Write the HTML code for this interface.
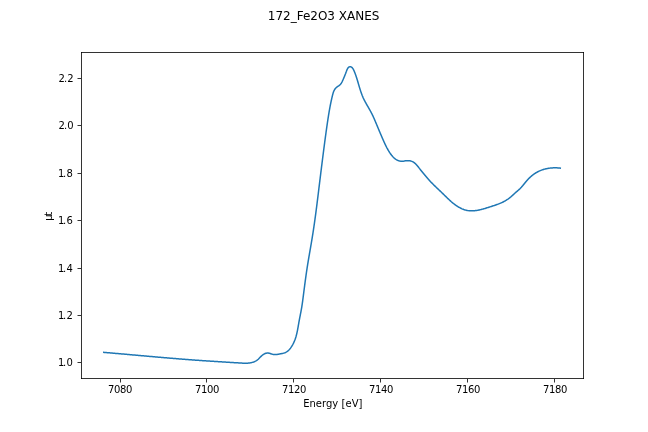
<!DOCTYPE html>
<html lang="en"><head><meta charset="utf-8"><title>172_Fe2O3 XANES</title>
<style>
html,body{margin:0;padding:0;background:#fff;overflow:hidden}
svg{display:block}
text{font-family:"DejaVu Sans","Liberation Sans",sans-serif;fill:#000}
.t{font-size:10px;letter-spacing:-0.36px}
.ax rect{fill:#333}
.ax rect.c{fill:#0a0a0a}
</style></head>
<body>
<svg width="648" height="432" viewBox="0 0 648 432">
<rect width="648" height="432" fill="#fff"/>
<text x="323.6" y="20" font-size="12" text-anchor="middle">172_Fe2O3 XANES</text>
<path d="M103.81 352.37 L104.46 352.43 L105.11 352.48 L105.77 352.54 L106.42 352.59 L107.07 352.65 L107.73 352.70 L108.38 352.76 L109.03 352.82 L109.69 352.87 L110.34 352.93 L110.99 352.98 L111.65 353.04 L112.30 353.10 L112.95 353.15 L113.61 353.21 L114.26 353.27 L114.91 353.32 L115.57 353.38 L116.22 353.44 L116.87 353.49 L117.53 353.55 L118.18 353.61 L118.83 353.66 L119.49 353.72 L120.14 353.78 L120.80 353.84 L121.45 353.89 L122.10 353.95 L122.76 354.01 L123.41 354.07 L124.06 354.12 L124.72 354.18 L125.37 354.24 L126.03 354.30 L126.68 354.35 L127.33 354.41 L127.99 354.47 L128.64 354.53 L129.30 354.59 L129.95 354.64 L130.61 354.70 L131.26 354.76 L131.91 354.82 L132.57 354.88 L133.22 354.93 L133.88 354.99 L134.53 355.05 L135.18 355.11 L135.84 355.17 L136.49 355.22 L137.15 355.28 L137.80 355.34 L138.46 355.40 L139.11 355.46 L139.76 355.51 L140.42 355.57 L141.07 355.63 L141.73 355.69 L142.38 355.75 L143.04 355.81 L143.69 355.86 L144.35 355.92 L145.00 355.98 L145.65 356.04 L146.31 356.09 L146.96 356.15 L147.62 356.21 L148.27 356.27 L148.93 356.33 L149.58 356.38 L150.24 356.44 L150.89 356.50 L151.54 356.56 L152.20 356.61 L152.85 356.67 L153.51 356.73 L154.16 356.78 L154.82 356.84 L155.47 356.90 L156.13 356.96 L156.78 357.01 L157.44 357.07 L158.09 357.13 L158.74 357.18 L159.40 357.24 L160.05 357.30 L160.71 357.35 L161.36 357.41 L162.02 357.46 L162.67 357.52 L163.33 357.58 L163.98 357.63 L164.64 357.69 L165.29 357.74 L165.95 357.80 L166.60 357.85 L167.25 357.91 L167.91 357.96 L168.56 358.02 L169.22 358.07 L169.87 358.13 L170.53 358.18 L171.18 358.24 L171.84 358.29 L172.49 358.35 L173.14 358.40 L173.80 358.45 L174.45 358.51 L175.11 358.56 L175.76 358.61 L176.42 358.67 L177.07 358.72 L177.73 358.77 L178.38 358.83 L179.04 358.88 L179.69 358.93 L180.34 358.98 L181.00 359.04 L181.65 359.09 L182.31 359.14 L182.96 359.19 L183.62 359.24 L184.27 359.29 L184.92 359.34 L185.58 359.40 L186.23 359.45 L186.89 359.50 L187.54 359.55 L188.20 359.60 L188.85 359.65 L189.50 359.70 L190.16 359.75 L190.81 359.79 L191.47 359.84 L192.12 359.89 L192.77 359.94 L193.43 359.99 L194.08 360.04 L194.74 360.08 L195.39 360.13 L196.04 360.18 L196.70 360.23 L197.35 360.27 L198.01 360.32 L198.66 360.37 L199.31 360.41 L199.97 360.46 L200.62 360.50 L201.28 360.55 L201.93 360.59 L202.58 360.64 L203.24 360.68 L203.89 360.73 L204.54 360.77 L205.20 360.82 L205.85 360.86 L206.51 360.90 L207.16 360.95 L207.81 360.99 L208.47 361.03 L209.12 361.08 L209.78 361.12 L210.43 361.16 L211.08 361.20 L211.74 361.25 L212.39 361.29 L213.05 361.33 L213.70 361.37 L214.35 361.41 L215.01 361.45 L215.66 361.49 L216.32 361.54 L216.97 361.58 L217.63 361.62 L218.28 361.66 L218.94 361.70 L219.59 361.74 L220.25 361.78 L220.90 361.82 L221.56 361.86 L222.21 361.90 L222.87 361.94 L223.52 361.98 L224.18 362.02 L224.83 362.06 L225.49 362.10 L226.15 362.14 L226.80 362.18 L227.46 362.22 L228.12 362.26 L228.77 362.30 L229.43 362.34 L230.09 362.38 L230.74 362.43 L231.40 362.47 L232.06 362.51 L232.72 362.55 L233.38 362.59 L234.03 362.63 L234.69 362.67 L235.35 362.71 L236.01 362.75 L236.67 362.79 L237.33 362.83 L237.99 362.87 L238.65 362.91 L239.31 362.95 L239.97 362.99 L240.63 363.03 L241.29 363.07 L241.95 363.11 L242.61 363.14 L243.27 363.17 L243.92 363.20 L244.58 363.21 L245.24 363.22 L245.89 363.22 L246.55 363.20 L247.20 363.18 L247.85 363.14 L248.49 363.08 L249.14 363.01 L249.78 362.93 L250.42 362.82 L251.06 362.69 L251.69 362.55 L252.32 362.38 L252.94 362.18 L253.56 361.97 L254.17 361.73 L254.77 361.47 L255.36 361.18 L255.93 360.87 L256.48 360.53 L257.02 360.16 L257.53 359.78 L258.03 359.36 L258.50 358.93 L258.97 358.48 L259.43 358.02 L259.88 357.55 L260.34 357.08 L260.81 356.61 L261.29 356.14 L261.79 355.69 L262.31 355.26 L262.85 354.84 L263.41 354.46 L263.99 354.10 L264.57 353.79 L265.17 353.52 L265.78 353.30 L266.40 353.14 L267.02 353.04 L267.65 353.01 L268.28 353.05 L268.90 353.16 L269.53 353.32 L270.16 353.51 L270.79 353.72 L271.42 353.93 L272.06 354.14 L272.70 354.31 L273.33 354.45 L273.98 354.54 L274.62 354.57 L275.27 354.57 L275.92 354.54 L276.57 354.47 L277.22 354.39 L277.88 354.29 L278.54 354.18 L279.19 354.06 L279.85 353.95 L280.51 353.84 L281.17 353.72 L281.82 353.59 L282.46 353.45 L283.10 353.30 L283.73 353.12 L284.34 352.92 L284.94 352.69 L285.53 352.44 L286.10 352.15 L286.65 351.82 L287.18 351.46 L287.70 351.07 L288.19 350.65 L288.67 350.21 L289.14 349.74 L289.58 349.25 L290.01 348.74 L290.43 348.21 L290.83 347.67 L291.21 347.12 L291.58 346.56 L291.94 345.99 L292.28 345.42 L292.62 344.84 L292.93 344.26 L293.24 343.68 L293.53 343.09 L293.81 342.50 L294.08 341.91 L294.34 341.31 L294.59 340.71 L294.83 340.10 L295.05 339.50 L295.27 338.88 L295.48 338.27 L295.68 337.65 L295.87 337.03 L296.06 336.41 L296.23 335.78 L296.40 335.15 L296.56 334.51 L296.72 333.88 L296.87 333.24 L297.01 332.60 L297.15 331.96 L297.29 331.32 L297.42 330.67 L297.54 330.03 L297.66 329.38 L297.78 328.73 L297.90 328.08 L298.02 327.43 L298.13 326.78 L298.24 326.13 L298.35 325.48 L298.47 324.83 L298.58 324.18 L298.69 323.52 L298.80 322.87 L298.92 322.23 L299.03 321.58 L299.15 320.93 L299.27 320.28 L299.39 319.64 L299.52 318.99 L299.64 318.35 L299.76 317.70 L299.89 317.06 L300.02 316.41 L300.14 315.77 L300.27 315.13 L300.39 314.48 L300.52 313.84 L300.64 313.20 L300.77 312.56 L300.89 311.91 L301.01 311.27 L301.13 310.63 L301.25 309.98 L301.37 309.34 L301.48 308.69 L301.59 308.05 L301.70 307.40 L301.81 306.76 L301.91 306.11 L302.01 305.46 L302.11 304.81 L302.21 304.16 L302.30 303.51 L302.40 302.86 L302.49 302.21 L302.58 301.56 L302.67 300.91 L302.75 300.26 L302.84 299.61 L302.92 298.96 L303.01 298.30 L303.09 297.65 L303.17 297.00 L303.26 296.35 L303.34 295.70 L303.43 295.04 L303.51 294.39 L303.59 293.74 L303.68 293.09 L303.76 292.44 L303.84 291.78 L303.93 291.13 L304.01 290.48 L304.09 289.83 L304.18 289.18 L304.26 288.53 L304.35 287.87 L304.43 287.22 L304.52 286.57 L304.60 285.92 L304.69 285.27 L304.77 284.62 L304.86 283.97 L304.94 283.32 L305.03 282.67 L305.12 282.02 L305.20 281.36 L305.29 280.71 L305.38 280.06 L305.47 279.41 L305.56 278.76 L305.65 278.11 L305.74 277.46 L305.83 276.81 L305.92 276.16 L306.01 275.51 L306.10 274.86 L306.19 274.21 L306.29 273.56 L306.38 272.91 L306.48 272.26 L306.57 271.62 L306.67 270.97 L306.76 270.32 L306.86 269.67 L306.96 269.02 L307.06 268.37 L307.16 267.72 L307.26 267.07 L307.36 266.43 L307.46 265.78 L307.57 265.13 L307.67 264.48 L307.77 263.83 L307.88 263.18 L307.99 262.54 L308.09 261.89 L308.20 261.24 L308.31 260.59 L308.42 259.95 L308.52 259.30 L308.63 258.65 L308.74 258.00 L308.85 257.36 L308.96 256.71 L309.07 256.06 L309.19 255.42 L309.30 254.77 L309.41 254.12 L309.52 253.47 L309.63 252.83 L309.74 252.18 L309.86 251.53 L309.97 250.89 L310.08 250.24 L310.19 249.59 L310.30 248.94 L310.42 248.30 L310.53 247.65 L310.64 247.00 L310.75 246.36 L310.86 245.71 L310.97 245.06 L311.09 244.41 L311.20 243.77 L311.31 243.12 L311.42 242.47 L311.53 241.82 L311.63 241.18 L311.74 240.53 L311.85 239.88 L311.96 239.23 L312.07 238.59 L312.17 237.94 L312.28 237.29 L312.38 236.64 L312.49 235.99 L312.59 235.35 L312.69 234.70 L312.80 234.05 L312.90 233.40 L313.00 232.75 L313.10 232.10 L313.20 231.45 L313.30 230.81 L313.40 230.16 L313.50 229.51 L313.59 228.86 L313.69 228.21 L313.79 227.56 L313.88 226.91 L313.98 226.26 L314.07 225.61 L314.17 224.96 L314.26 224.31 L314.36 223.66 L314.45 223.01 L314.54 222.36 L314.63 221.71 L314.72 221.06 L314.81 220.41 L314.91 219.76 L315.00 219.11 L315.08 218.46 L315.17 217.81 L315.26 217.16 L315.35 216.51 L315.44 215.86 L315.53 215.21 L315.61 214.56 L315.70 213.91 L315.79 213.26 L315.87 212.61 L315.96 211.95 L316.04 211.30 L316.13 210.65 L316.21 210.00 L316.30 209.35 L316.38 208.70 L316.47 208.05 L316.55 207.40 L316.63 206.75 L316.72 206.09 L316.80 205.44 L316.88 204.79 L316.96 204.14 L317.05 203.49 L317.13 202.84 L317.21 202.19 L317.29 201.53 L317.37 200.88 L317.45 200.23 L317.53 199.58 L317.62 198.93 L317.70 198.28 L317.78 197.63 L317.86 196.97 L317.94 196.32 L318.02 195.67 L318.10 195.02 L318.18 194.37 L318.26 193.72 L318.34 193.06 L318.42 192.41 L318.50 191.76 L318.58 191.11 L318.65 190.46 L318.73 189.80 L318.81 189.15 L318.89 188.50 L318.97 187.85 L319.05 187.20 L319.13 186.55 L319.21 185.89 L319.29 185.24 L319.37 184.59 L319.45 183.94 L319.53 183.29 L319.61 182.64 L319.69 181.98 L319.77 181.33 L319.85 180.68 L319.93 180.03 L320.01 179.38 L320.09 178.73 L320.17 178.07 L320.25 177.42 L320.33 176.77 L320.41 176.12 L320.49 175.47 L320.57 174.82 L320.65 174.17 L320.73 173.51 L320.81 172.86 L320.89 172.21 L320.97 171.56 L321.05 170.91 L321.13 170.26 L321.22 169.60 L321.30 168.95 L321.38 168.30 L321.46 167.65 L321.54 167.00 L321.62 166.35 L321.70 165.70 L321.79 165.05 L321.87 164.39 L321.95 163.74 L322.03 163.09 L322.11 162.44 L322.20 161.79 L322.28 161.14 L322.36 160.49 L322.44 159.83 L322.53 159.18 L322.61 158.53 L322.69 157.88 L322.77 157.23 L322.86 156.58 L322.94 155.93 L323.02 155.28 L323.11 154.62 L323.19 153.97 L323.27 153.32 L323.36 152.67 L323.44 152.02 L323.52 151.37 L323.61 150.72 L323.69 150.06 L323.77 149.41 L323.86 148.76 L323.94 148.11 L324.03 147.46 L324.11 146.81 L324.20 146.16 L324.28 145.51 L324.37 144.86 L324.45 144.20 L324.54 143.55 L324.62 142.90 L324.71 142.25 L324.79 141.60 L324.88 140.95 L324.97 140.30 L325.05 139.65 L325.14 139.00 L325.23 138.35 L325.32 137.69 L325.40 137.04 L325.49 136.39 L325.58 135.74 L325.67 135.09 L325.76 134.44 L325.85 133.79 L325.94 133.14 L326.02 132.49 L326.11 131.84 L326.21 131.19 L326.30 130.54 L326.39 129.89 L326.48 129.24 L326.57 128.59 L326.66 127.94 L326.76 127.29 L326.85 126.64 L326.94 125.99 L327.04 125.34 L327.13 124.69 L327.22 124.04 L327.32 123.39 L327.41 122.74 L327.51 122.09 L327.61 121.44 L327.70 120.79 L327.80 120.15 L327.90 119.50 L328.00 118.85 L328.10 118.20 L328.20 117.55 L328.30 116.90 L328.40 116.26 L328.50 115.61 L328.61 114.96 L328.71 114.31 L328.82 113.66 L328.93 113.02 L329.03 112.37 L329.14 111.72 L329.25 111.08 L329.37 110.43 L329.48 109.78 L329.59 109.14 L329.71 108.49 L329.83 107.85 L329.95 107.20 L330.07 106.55 L330.19 105.91 L330.32 105.26 L330.44 104.62 L330.57 103.98 L330.70 103.33 L330.84 102.69 L330.97 102.05 L331.11 101.40 L331.25 100.76 L331.39 100.12 L331.53 99.48 L331.68 98.83 L331.82 98.19 L331.97 97.55 L332.13 96.91 L332.28 96.27 L332.44 95.63 L332.60 94.99 L332.76 94.35 L332.94 93.72 L333.12 93.09 L333.33 92.46 L333.54 91.85 L333.78 91.24 L334.05 90.65 L334.34 90.07 L334.66 89.50 L335.02 88.95 L335.42 88.43 L335.86 87.95 L336.34 87.51 L336.87 87.11 L337.41 86.73 L337.96 86.36 L338.52 85.99 L339.06 85.61 L339.57 85.20 L340.04 84.76 L340.48 84.29 L340.88 83.78 L341.25 83.25 L341.60 82.69 L341.93 82.11 L342.23 81.51 L342.52 80.90 L342.80 80.29 L343.07 79.68 L343.34 79.07 L343.59 78.48 L343.84 77.89 L344.09 77.30 L344.33 76.71 L344.57 76.12 L344.80 75.53 L345.04 74.94 L345.27 74.34 L345.51 73.74 L345.74 73.12 L345.98 72.49 L346.21 71.85 L346.46 71.20 L346.70 70.53 L346.96 69.87 L347.25 69.22 L347.56 68.61 L347.92 68.06 L348.32 67.57 L348.78 67.16 L349.30 66.86 L349.86 66.69 L350.43 66.69 L350.98 66.86 L351.51 67.17 L352.01 67.59 L352.48 68.09 L352.89 68.63 L353.25 69.20 L353.57 69.79 L353.86 70.38 L354.13 70.99 L354.38 71.60 L354.63 72.21 L354.87 72.82 L355.11 73.44 L355.34 74.05 L355.56 74.67 L355.78 75.29 L356.00 75.91 L356.21 76.54 L356.42 77.16 L356.62 77.79 L356.82 78.42 L357.01 79.05 L357.21 79.67 L357.40 80.30 L357.59 80.94 L357.77 81.57 L357.96 82.20 L358.14 82.83 L358.33 83.46 L358.51 84.09 L358.69 84.72 L358.88 85.36 L359.06 85.99 L359.25 86.62 L359.44 87.25 L359.63 87.87 L359.82 88.50 L360.01 89.13 L360.21 89.75 L360.41 90.38 L360.61 91.00 L360.82 91.62 L361.03 92.24 L361.24 92.86 L361.46 93.47 L361.69 94.08 L361.92 94.70 L362.15 95.30 L362.40 95.91 L362.65 96.51 L362.90 97.11 L363.16 97.71 L363.44 98.31 L363.71 98.90 L364.00 99.49 L364.29 100.07 L364.59 100.66 L364.89 101.24 L365.20 101.82 L365.51 102.40 L365.83 102.97 L366.15 103.55 L366.47 104.12 L366.80 104.70 L367.12 105.27 L367.45 105.84 L367.78 106.41 L368.11 106.98 L368.44 107.55 L368.77 108.13 L369.10 108.70 L369.42 109.27 L369.75 109.85 L370.07 110.42 L370.39 111.00 L370.70 111.57 L371.01 112.15 L371.32 112.74 L371.62 113.32 L371.92 113.90 L372.21 114.49 L372.50 115.08 L372.78 115.67 L373.06 116.27 L373.33 116.86 L373.60 117.46 L373.87 118.06 L374.13 118.66 L374.40 119.26 L374.66 119.86 L374.91 120.46 L375.17 121.06 L375.43 121.67 L375.68 122.27 L375.93 122.87 L376.19 123.48 L376.44 124.08 L376.69 124.69 L376.94 125.30 L377.20 125.90 L377.45 126.51 L377.70 127.11 L377.95 127.72 L378.21 128.33 L378.46 128.93 L378.71 129.54 L378.97 130.14 L379.22 130.75 L379.48 131.35 L379.73 131.96 L379.99 132.57 L380.24 133.17 L380.50 133.78 L380.76 134.38 L381.02 134.98 L381.27 135.59 L381.53 136.19 L381.79 136.80 L382.05 137.40 L382.31 138.00 L382.58 138.61 L382.84 139.21 L383.10 139.81 L383.36 140.41 L383.63 141.01 L383.90 141.61 L384.17 142.21 L384.44 142.81 L384.71 143.40 L384.99 144.00 L385.27 144.59 L385.56 145.18 L385.85 145.77 L386.14 146.36 L386.43 146.94 L386.74 147.52 L387.04 148.10 L387.36 148.68 L387.67 149.25 L388.00 149.82 L388.33 150.39 L388.66 150.95 L389.01 151.51 L389.36 152.07 L389.72 152.62 L390.08 153.17 L390.46 153.72 L390.84 154.26 L391.23 154.79 L391.63 155.32 L392.05 155.83 L392.47 156.33 L392.91 156.82 L393.36 157.29 L393.83 157.75 L394.31 158.19 L394.81 158.60 L395.32 158.99 L395.86 159.36 L396.41 159.70 L396.98 160.02 L397.57 160.30 L398.18 160.55 L398.82 160.77 L399.46 160.95 L400.11 161.09 L400.77 161.20 L401.44 161.26 L402.10 161.29 L402.76 161.26 L403.40 161.19 L404.04 161.09 L404.68 160.97 L405.32 160.85 L405.97 160.76 L406.63 160.69 L407.30 160.65 L407.97 160.65 L408.64 160.68 L409.30 160.74 L409.95 160.84 L410.59 160.97 L411.22 161.14 L411.83 161.35 L412.42 161.60 L412.98 161.89 L413.53 162.21 L414.05 162.57 L414.56 162.96 L415.05 163.37 L415.52 163.81 L415.98 164.27 L416.43 164.75 L416.87 165.25 L417.30 165.76 L417.73 166.27 L418.15 166.80 L418.56 167.32 L418.98 167.85 L419.39 168.38 L419.81 168.90 L420.22 169.42 L420.63 169.94 L421.04 170.46 L421.46 170.98 L421.87 171.50 L422.28 172.01 L422.70 172.53 L423.11 173.04 L423.53 173.55 L423.94 174.05 L424.36 174.56 L424.77 175.06 L425.19 175.57 L425.61 176.07 L426.04 176.56 L426.46 177.06 L426.88 177.56 L427.31 178.05 L427.74 178.54 L428.17 179.03 L428.61 179.51 L429.04 180.00 L429.48 180.48 L429.92 180.96 L430.37 181.44 L430.82 181.91 L431.27 182.39 L431.72 182.86 L432.18 183.33 L432.64 183.79 L433.10 184.26 L433.57 184.72 L434.03 185.19 L434.50 185.65 L434.97 186.11 L435.44 186.57 L435.92 187.02 L436.39 187.48 L436.87 187.94 L437.35 188.39 L437.82 188.85 L438.30 189.30 L438.78 189.75 L439.26 190.21 L439.73 190.66 L440.21 191.12 L440.69 191.57 L441.16 192.03 L441.64 192.48 L442.11 192.94 L442.58 193.40 L443.05 193.86 L443.52 194.31 L443.99 194.77 L444.46 195.23 L444.93 195.69 L445.39 196.15 L445.86 196.61 L446.33 197.07 L446.80 197.52 L447.27 197.98 L447.74 198.43 L448.21 198.88 L448.68 199.33 L449.16 199.78 L449.64 200.22 L450.13 200.66 L450.61 201.09 L451.10 201.53 L451.60 201.95 L452.09 202.38 L452.60 202.80 L453.11 203.21 L453.62 203.62 L454.14 204.02 L454.66 204.42 L455.19 204.81 L455.73 205.20 L456.27 205.57 L456.82 205.94 L457.38 206.30 L457.94 206.66 L458.51 207.00 L459.08 207.33 L459.66 207.65 L460.24 207.96 L460.83 208.26 L461.43 208.55 L462.03 208.82 L462.63 209.07 L463.24 209.31 L463.86 209.54 L464.48 209.75 L465.10 209.94 L465.73 210.12 L466.36 210.27 L467.00 210.41 L467.63 210.53 L468.28 210.63 L468.92 210.71 L469.57 210.77 L470.23 210.81 L470.88 210.83 L471.54 210.84 L472.19 210.83 L472.85 210.81 L473.51 210.77 L474.17 210.72 L474.83 210.66 L475.48 210.58 L476.14 210.49 L476.79 210.39 L477.45 210.29 L478.10 210.17 L478.75 210.04 L479.39 209.91 L480.03 209.77 L480.67 209.62 L481.31 209.46 L481.95 209.30 L482.58 209.13 L483.21 208.96 L483.84 208.78 L484.47 208.60 L485.10 208.42 L485.73 208.23 L486.35 208.03 L486.98 207.84 L487.60 207.64 L488.23 207.44 L488.85 207.24 L489.48 207.04 L490.10 206.84 L490.72 206.64 L491.35 206.44 L491.97 206.23 L492.60 206.03 L493.22 205.83 L493.84 205.62 L494.47 205.42 L495.09 205.21 L495.71 205.00 L496.33 204.78 L496.95 204.56 L497.56 204.33 L498.18 204.10 L498.79 203.87 L499.40 203.63 L500.00 203.38 L500.61 203.12 L501.21 202.86 L501.80 202.59 L502.40 202.31 L502.99 202.02 L503.57 201.72 L504.15 201.41 L504.73 201.10 L505.30 200.77 L505.87 200.44 L506.43 200.09 L506.98 199.74 L507.53 199.38 L508.08 199.01 L508.61 198.63 L509.14 198.24 L509.66 197.84 L510.17 197.43 L510.68 197.02 L511.17 196.59 L511.66 196.16 L512.15 195.72 L512.63 195.28 L513.11 194.83 L513.59 194.38 L514.07 193.94 L514.55 193.49 L515.04 193.05 L515.53 192.62 L516.03 192.19 L516.53 191.76 L517.03 191.33 L517.53 190.90 L518.02 190.46 L518.52 190.03 L519.01 189.59 L519.49 189.14 L519.97 188.69 L520.43 188.23 L520.89 187.76 L521.34 187.28 L521.77 186.80 L522.20 186.30 L522.63 185.80 L523.04 185.30 L523.46 184.79 L523.87 184.28 L524.27 183.76 L524.68 183.25 L525.09 182.74 L525.50 182.22 L525.92 181.71 L526.34 181.21 L526.77 180.71 L527.20 180.22 L527.64 179.73 L528.09 179.25 L528.55 178.77 L529.01 178.30 L529.48 177.84 L529.96 177.39 L530.44 176.95 L530.93 176.51 L531.43 176.08 L531.94 175.66 L532.45 175.25 L532.97 174.85 L533.49 174.46 L534.03 174.08 L534.56 173.71 L535.11 173.35 L535.66 173.00 L536.22 172.66 L536.79 172.33 L537.36 172.01 L537.94 171.71 L538.52 171.42 L539.11 171.13 L539.71 170.87 L540.31 170.61 L540.92 170.36 L541.53 170.13 L542.15 169.91 L542.77 169.70 L543.40 169.50 L544.03 169.31 L544.66 169.14 L545.30 168.97 L545.94 168.82 L546.58 168.68 L547.23 168.55 L547.88 168.43 L548.53 168.32 L549.18 168.22 L549.83 168.13 L550.49 168.05 L551.14 167.99 L551.80 167.93 L552.46 167.88 L553.12 167.85 L553.77 167.82 L554.43 167.81 L555.09 167.80 L555.74 167.81 L556.39 167.82 L557.05 167.84 L557.70 167.88 L558.35 167.92 L558.99 167.97 L559.63 168.03 L560.28 168.10" fill="none" stroke="#1f77b4" stroke-width="1.5" stroke-linejoin="round" stroke-linecap="square"/>
<g class="ax">
<rect x="81" y="52" width="503" height="1"/>
<rect x="81" y="378" width="503" height="1"/>
<rect x="81" y="52" width="1" height="327"/>
<rect x="583" y="52" width="1" height="327"/>
<rect x="120" y="379" width="1" height="3.5"/>
<rect x="206" y="379" width="1" height="3.5"/>
<rect x="293" y="379" width="1" height="3.5"/>
<rect x="380" y="379" width="1" height="3.5"/>
<rect x="467" y="379" width="1" height="3.5"/>
<rect x="554" y="379" width="1" height="3.5"/>
<rect x="77.5" y="362" width="3.5" height="1"/>
<rect x="77.5" y="315" width="3.5" height="1"/>
<rect x="77.5" y="268" width="3.5" height="1"/>
<rect x="77.5" y="220" width="3.5" height="1"/>
<rect x="77.5" y="173" width="3.5" height="1"/>
<rect x="77.5" y="125" width="3.5" height="1"/>
<rect x="77.5" y="78" width="3.5" height="1"/>
<rect x="81" y="52" width="1" height="1" class="c"/>
<rect x="583" y="52" width="1" height="1" class="c"/>
<rect x="81" y="378" width="1" height="1" class="c"/>
<rect x="583" y="378" width="1" height="1" class="c"/>
</g>
<g class="t">
<text x="119.9" y="392.9" text-anchor="middle">7080</text>
<text x="206.9" y="392.9" text-anchor="middle">7100</text>
<text x="293.9" y="392.9" text-anchor="middle">7120</text>
<text x="380.9" y="392.9" text-anchor="middle">7140</text>
<text x="467.9" y="392.9" text-anchor="middle">7160</text>
<text x="554.9" y="392.9" text-anchor="middle">7180</text>
<text x="58.0 63.09 66.54" y="366">1.0</text>
<text x="58.0 63.09 66.54" y="319">1.2</text>
<text x="58.0 63.09 66.54" y="272">1.4</text>
<text x="58.0 63.09 66.54" y="224">1.6</text>
<text x="58.0 63.09 66.54" y="177">1.8</text>
<text x="58.48 63.98 67.23" y="129">2.0</text>
<text x="58.48 63.98 67.23" y="82">2.2</text>
<text x="332.8" y="407" text-anchor="middle" style="letter-spacing:0.03px">Energy [eV]</text>
<text transform="translate(52 215.5) rotate(-90)" x="-5.2 -0.35">μt</text>
</g>
</svg>
</body></html>
